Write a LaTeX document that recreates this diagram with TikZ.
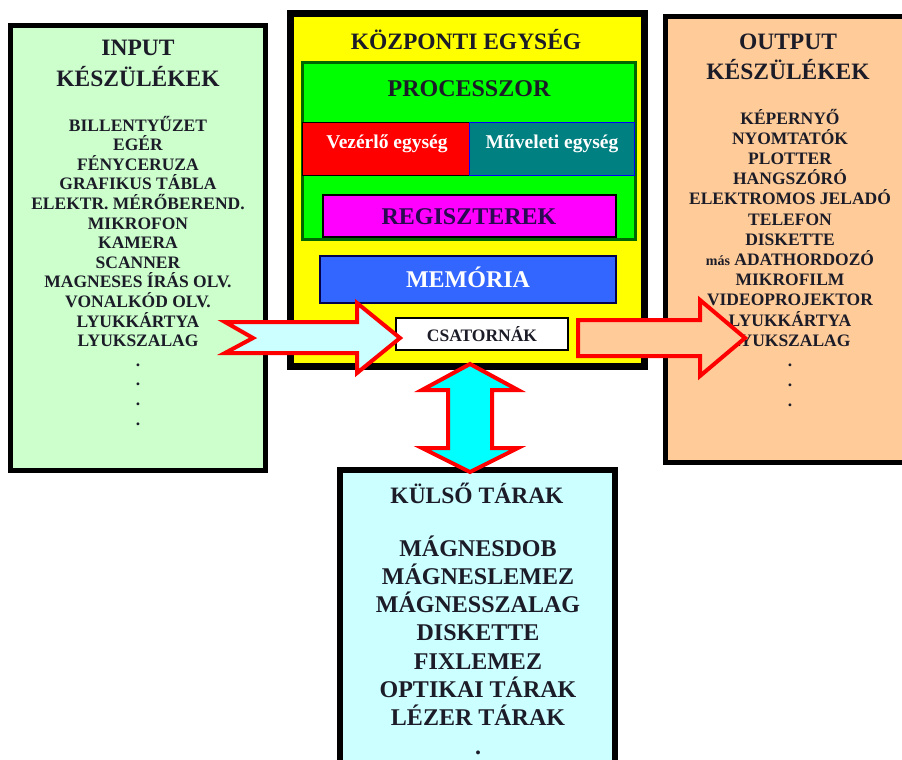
\documentclass[tikz,border=0pt]{standalone}
\usepackage{fontspec}
\setmainfont{Liberation Serif}
\definecolor{ingreen}{HTML}{CCFFCC}
\definecolor{outorange}{HTML}{FFCC99}
\definecolor{kulcyan}{HTML}{CCFFFF}
\definecolor{cpuyellow}{HTML}{FFFF00}
\definecolor{procgreen}{HTML}{00FF00}
\definecolor{procborder}{HTML}{006600}
\definecolor{vezred}{HTML}{FF0000}
\definecolor{mutteal}{HTML}{008080}
\definecolor{regmag}{HTML}{FF00FF}
\definecolor{memblue}{HTML}{3366FF}
\definecolor{txtdark}{HTML}{1C1C28}
\definecolor{regtxt}{HTML}{2A0A50}
\definecolor{arrcyan}{HTML}{00FFFF}
\begin{document}
\begin{tikzpicture}[x=1pt,y=-1pt,
  every node/.style={inner sep=0pt,font=\bfseries,text=txtdark},
  bigbox/.style={draw=black,line width=5pt},
  blockarrow/.style={draw=red,line width=4pt,line join=miter,miter limit=10},
  inlist/.style={anchor=base,font=\bfseries\fontsize{17.5}{20}\selectfont},
  ttl/.style={anchor=base,font=\bfseries\fontsize{23.5}{26}\selectfont},
  kullist/.style={anchor=base,font=\bfseries\fontsize{24}{27}\selectfont},
  cpulabel/.style={anchor=base,font=\bfseries\fontsize{24}{27}\selectfont},
  unitlabel/.style={anchor=base,font=\bfseries\fontsize{19.5}{22}\selectfont,text=white}
]
\useasboundingbox (0,0) rectangle (902,760);
\fill[white] (0,0) rectangle (902,760);

% ---------- boxes ----------
\filldraw[bigbox,fill=ingreen] (10.5,25.5) rectangle (265.5,470.5);
\filldraw[bigbox,fill=outorange] (665.5,16.5) rectangle (910,462.5);
\filldraw[bigbox,line width=6pt,fill=kulcyan] (340,470) rectangle (615,775);
\filldraw[draw=black,line width=7pt,fill=cpuyellow] (290.5,13.5) rectangle (644.5,366.5);

% processor
\filldraw[draw=procborder,line width=3pt,fill=procgreen] (302.5,62.5) rectangle (635.5,239.5);
\filldraw[draw=black,line width=1pt,fill=vezred] (302,122) rectangle (469,175);
\filldraw[draw=blue,line width=1pt,fill=mutteal] (469,122) rectangle (634,175);
\filldraw[draw=black,line width=2pt,fill=regmag] (323,195) rectangle (616,237);
\filldraw[draw=black!70!blue,line width=2pt,fill=memblue] (320,256) rectangle (616,303);
\filldraw[draw=black,line width=1.5pt,fill=white] (396,318) rectangle (568,350);

% ---------- CPU texts ----------
\node[ttl] (cputitle) at (466,50) {KÖZPONTI EGYSÉG};
\node[cpulabel] (proc) at (469,96) {PROCESSZOR};
\node[unitlabel] (vez) at (387,148) {Vezérlő egység};
\node[unitlabel] (muv) at (552,148) {Műveleti egység};
\node[cpulabel,text=regtxt] (reg) at (469,224) {REGISZTEREK};
\node[cpulabel,text=white] (mem) at (468,287) {MEMÓRIA};
\node[anchor=base,font=\bfseries\fontsize{17.5}{19}\selectfont] (csat) at (482,341) {CSATORNÁK};

% ---------- input texts ----------
\node[ttl] (intitle1) at (138,56) {INPUT};
\node[ttl] (intitle2) at (138,86) {KÉSZÜLÉKEK};
\foreach \t [count=\i] in {BILLENTYŰZET,EGÉR,FÉNYCERUZA,GRAFIKUS TÁBLA,ELEKTR. MÉRŐBEREND.,MIKROFON,KAMERA,SCANNER,MAGNESES ÍRÁS OLV.,VONALKÓD OLV.,LYUKKÁRTYA,LYUKSZALAG,.,.,.,.}
  \node[inlist] (in\i) at (138,{131+19.6*(\i-1)}) {\t};

% ---------- output texts ----------
\node[ttl] (outtitle1) at (788,50) {OUTPUT};
\node[ttl] (outtitle2) at (788,79) {KÉSZÜLÉKEK};
\foreach \t [count=\i] in {KÉPERNYŐ,NYOMTATÓK,PLOTTER,HANGSZÓRÓ,ELEKTROMOS JELADÓ,TELEFON,DISKETTE,{\fontsize{14}{16}\selectfont más} ADATHORDOZÓ,MIKROFILM,VIDEOPROJEKTOR,LYUKKÁRTYA,LYUKSZALAG,.,.,.}
  \node[inlist] (out\i) at (790,{124+20.2*(\i-1)}) {\t};

% ---------- külső tárak texts ----------
\node[anchor=base,font=\bfseries\fontsize{23.5}{26}\selectfont] (kultitle) at (477,503) {KÜLSŐ TÁRAK};
\foreach \t [count=\i] in {MÁGNESDOB,MÁGNESLEMEZ,MÁGNESSZALAG,DISKETTE,FIXLEMEZ,OPTIKAI TÁRAK,LÉZER TÁRAK,.}
  \node[kullist] (kul\i) at (478,{556+28.3*(\i-1)}) {\t};

% ---------- block arrows ----------
\coordinate (intip) at (400,338);
\coordinate (outtip) at (745,338);
\coordinate (vtop) at (470,364);
\coordinate (vbot) at (470,472);
\filldraw[blockarrow,fill=kulcyan] (225,322) -- (357,322) -- (357,303) -- (intip) -- (357,373) -- (357,353) -- (225,353) -- (253,338) -- cycle;
\filldraw[blockarrow,fill=outorange] (578,320) -- (700,320) -- (700,300) -- (outtip) -- (700,376) -- (700,356) -- (578,356) -- cycle;
\filldraw[blockarrow,fill=arrcyan] (vtop) -- (518,390) -- (492,390) -- (492,448) -- (518,448) -- (vbot) -- (422,448) -- (448,448) -- (448,390) -- (422,390) -- cycle;
\end{tikzpicture}
\end{document}
